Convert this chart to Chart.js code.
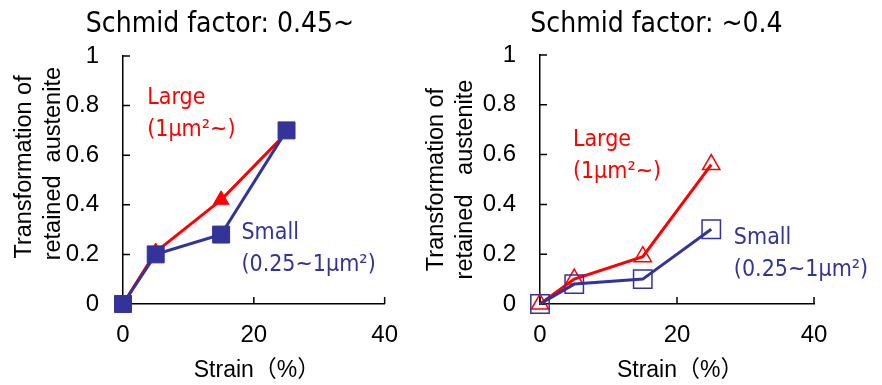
<!DOCTYPE html>
<html>
<head>
<meta charset="utf-8">
<script src="https://cdn.jsdelivr.net/npm/chart.js@4"></script>
<style>
html, body { margin: 0; padding: 0; background: #fff; }
body { width: 882px; height: 385px; position: relative; overflow: hidden; }
#left { position: absolute; left: 0; top: 0; }
#right { position: absolute; left: 415px; top: 0; }
</style>
</head>
<body>
<canvas id="left" width="415" height="385"></canvas>
<canvas id="right" width="467" height="385"></canvas>
<script>
// strain (%) at each measurement
const strain = [0, 5, 15, 25];
// Schmid factor 0.45~
const largeHigh = [0, 0.21, 0.42, 0.69];
const smallHigh = [0, 0.20, 0.28, 0.70];
// Schmid factor ~0.4
const largeLow = [0, 0.10, 0.19, 0.56];
const smallLow = [0, 0.08, 0.10, 0.30];

const xTicks = [0, 20, 40];
const xTickLabels = ['0', '20', '40'];
const yTicks = [0, 0.2, 0.4, 0.6, 0.8, 1];
const yTickLabels = ['0', '0.2', '0.4', '0.6', '0.8', '1'];

const red = '#ff0000';
const blue = '#333399';
const axisFont = "'Liberation Sans', 'Noto Sans CJK JP', sans-serif";
const labelFont = "'DejaVu Sans Condensed', 'DejaVu Sans', sans-serif";

Chart.defaults.font.family = axisFont;
Chart.defaults.color = '#000';

function pts(vals) {
    return strain.map((x, i) => ({ x: x, y: vals[i] }));
}

// inward tick marks like the original
const innerTicks = {
    id: 'innerTicks',
    beforeDatasetsDraw(chart) {
        const { ctx, chartArea, scales: { x, y } } = chart;
        ctx.save();
        ctx.strokeStyle = '#000';
        ctx.lineWidth = 1.5;
        ctx.beginPath();
        x.ticks.forEach(t => {
            const px = x.getPixelForValue(t.value);
            ctx.moveTo(px, chartArea.bottom);
            ctx.lineTo(px, chartArea.bottom - 7);
        });
        y.ticks.forEach(t => {
            const py = y.getPixelForValue(t.value);
            ctx.moveTo(chartArea.left, py);
            ctx.lineTo(chartArea.left + 7, py);
        });
        ctx.stroke();
        ctx.restore();
    }
};

// series labels written inside the plot
const notes = {
    id: 'notes',
    afterDraw(chart, args, opts) {
        const { ctx, scales: { x, y } } = chart;
        ctx.save();
        ctx.font = '23px ' + labelFont;
        ctx.textBaseline = 'middle';
        ctx.textAlign = 'left';
        opts.items.forEach(n => {
            ctx.fillStyle = n.color;
            ctx.fillText(n.text, x.getPixelForValue(n.x), y.getPixelForValue(n.y));
        });
        ctx.restore();
    }
};

function makeChart(id, cfg) {
    return new Chart(document.getElementById(id), {
        type: 'scatter',
        plugins: [innerTicks, notes],
        data: { datasets: cfg.datasets },
        options: {
            responsive: false,
            animation: false,
            events: [],
            layout: { padding: { left: cfg.padLeft, right: cfg.padRight, top: 0, bottom: 0 } },
            plugins: {
                legend: { display: false },
                tooltip: { enabled: false },
                title: {
                    display: true,
                    text: cfg.title,
                    color: '#000',
                    font: { family: labelFont, size: 28, weight: 'normal' },
                    padding: { top: 8, bottom: cfg.titleGap }
                },
                notes: { items: cfg.notes }
            },
            scales: {
                x: {
                    type: 'linear',
                    min: 0,
                    max: 40,
                    afterBuildTicks: s => { s.ticks = xTicks.map(v => ({ value: v })); },
                    afterFit: s => { s.height = 81; },
                    grid: { display: false, drawTicks: false },
                    border: { display: true, color: '#000', width: 1.5 },
                    ticks: {
                        padding: 17,
                        font: { size: 24 },
                        callback: (v, i) => xTickLabels[i]
                    },
                    title: {
                        display: true,
                        text: ' Strain（%）',
                        font: { size: 23 },
                        padding: { top: 0, bottom: 1 }
                    }
                },
                y: {
                    type: 'linear',
                    min: 0,
                    max: 1,
                    afterBuildTicks: s => { s.ticks = yTicks.map(v => ({ value: v })); },
                    afterFit: s => { s.width = cfg.yWidth; },
                    grid: { display: false, drawTicks: false },
                    border: { display: true, color: '#000', width: 1.5 },
                    ticks: {
                        padding: 24,
                        font: { size: 24 },
                        callback: (v, i) => yTickLabels[i]
                    },
                    title: {
                        display: true,
                        text: cfg.yTitle,
                        font: { size: 23.5, lineHeight: 1.22 },
                        padding: { top: cfg.yTitlePad, bottom: 0 }
                    }
                }
            }
        }
    });
}

function series(label, vals, color, style, radius, filled) {
    return {
        label: label,
        data: pts(vals),
        showLine: true,
        tension: 0,
        clip: false,
        borderColor: color,
        borderWidth: 3,
        pointStyle: style,
        pointRadius: radius,
        pointBorderColor: color,
        pointBackgroundColor: filled ? color : 'rgba(0,0,0,0)',
        pointBorderWidth: filled ? 1 : 1.5
    };
}

makeChart('left', {
    title: 'Schmid factor: 0.45~',
    padLeft: 47,
    padRight: 22,
    yWidth: 76,
    yTitlePad: -36.5,
    titleGap: 14.4,
    yTitle: ['    Transformation of', '     retained  austenite'],
    datasets: [
        series('Small', smallHigh, blue, 'rect', 12, true),
        series('Large', largeHigh, red, 'triangle', 9, true)
    ],
    notes: [
        { text: 'Large', x: 3.7, y: 0.83, color: red },
        { text: '(1μm²~)', x: 3.7, y: 0.70, color: red },
        { text: 'Small', x: 18.1, y: 0.286, color: blue },
        { text: '(0.25~1μm²)', x: 18.1, y: 0.157, color: blue }
    ]
});

makeChart('right', {
    title: '   Schmid factor: ~0.4',
    padLeft: 60,
    padRight: 68,
    yWidth: 65,
    yTitlePad: -52.5,
    titleGap: 13.4,
    yTitle: ['Transformation of', 'retained   austenite'],
    datasets: [
        series('Small', smallLow, blue, 'rect', 13, false),
        series('Large', largeLow, red, 'triangle', 10, false)
    ],
    notes: [
        { text: 'Large', x: 4.8, y: 0.66, color: red },
        { text: '(1μm²~)', x: 4.8, y: 0.53, color: red },
        { text: 'Small', x: 28.3, y: 0.265, color: blue },
        { text: '(0.25~1μm²)', x: 28.3, y: 0.137, color: blue }
    ]
});
</script>
</body>
</html>
